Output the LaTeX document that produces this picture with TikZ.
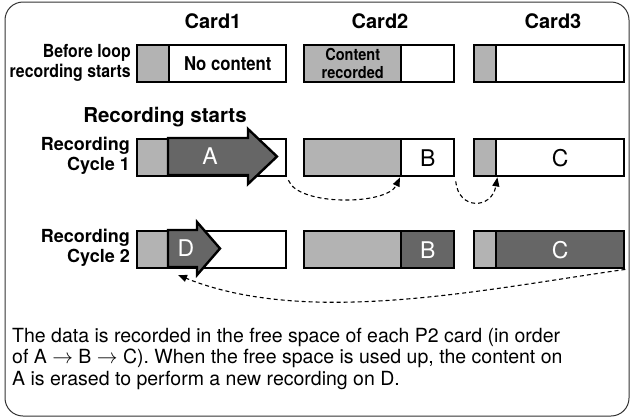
\documentclass[tikz,border=0pt]{standalone}
\usepackage{fontspec}
\setmainfont{TeX Gyre Heros}
\newfontfamily\narrowfont[FakeStretch=0.88]{TeX Gyre Heros}
\usetikzlibrary{arrows.meta}
\definecolor{CardUsed}{HTML}{B3B3B3}
\definecolor{CardRec}{HTML}{666666}
\definecolor{FrameGray}{HTML}{333333}
\tikzset{
    % Base part of a card
    basepart/.style={
        draw=black,
        line width=2.4pt,
        anchor=north west,
        minimum height=37pt,
        inner sep=0pt,
        align=center
    },
    % Part already holding content
    usedpart/.style={
        basepart,
        fill=CardUsed
    },
    % Free space
    freepart/.style={
        basepart,
        fill=white,
        font=\fontsize{23}{25}\selectfont
    },
    % Part being recorded
    recpart/.style={
        basepart,
        fill=CardRec,
        text=white,
        font=\fontsize{23}{25}\selectfont
    },
    % Recording arrow inside card 1
    recarrow/.style={
        draw=black,
        fill=CardRec,
        line width=2.4pt,
        line join=miter
    },
    % Card title
    cardtitle/.style={
        font=\fontsize{20}{22}\selectfont\bfseries
    },
    % Row label on the left
    rowlabel/.style={
        anchor=east,
        align=right,
        inner sep=0pt,
        font=\fontsize{18}{20}\selectfont\bfseries
    },
    % Dashed order arrow
    dasharrow/.style={
        -{Triangle[length=9pt,width=7pt]},
        dash pattern=on 4pt off 3pt,
        line width=1.1pt,
        draw=black
    }
}

\begin{document}
\begin{tikzpicture}[x=1pt, y=1pt]
        \useasboundingbox (0,0) rectangle (632,-418);
        \draw[FrameGray, line width=1pt, rounded corners=18pt] (5,-2) rectangle (629,-416);

        % Titles
        \node[cardtitle] (title1) at (213,-21) {Card1};
        \node[cardtitle] (title2) at (380,-21) {Card2};
        \node[cardtitle] (title3) at (553,-21) {Card3};

        % Before loop recording
        \node[rowlabel, font=\fontsize{18}{20}\selectfont\narrowfont\bfseries] (lblbefore) at (131,-63) {Before loop\\recording starts};
        \node[usedpart, minimum width=32pt] (c1r1used) at (136,-44) {};
        \node[freepart, minimum width=117pt, font=\fontsize{19}{21}\selectfont\narrowfont\bfseries] (c1r1free) at (168,-44) {No content};
        \node[usedpart, minimum width=97pt, font=\fontsize{16.5}{18}\selectfont\narrowfont\bfseries] (c2r1used) at (303,-44) {Content\\recorded};
        \node[freepart, minimum width=53pt] (c2r1free) at (400,-44) {};
        \node[usedpart, minimum width=22pt] (c3r1used) at (473,-44) {};
        \node[freepart, minimum width=128pt] (c3r1free) at (495,-44) {};

        % Recording starts
        \node[cardtitle, font=\fontsize{20.5}{22}\selectfont\bfseries] (lblstart) at (165,-117) {Recording starts};

        % Recording cycle 1
        \node[rowlabel] (lblcycle1) at (130,-156) {Recording\\Cycle 1};
        \node[usedpart, minimum width=32pt] (c1r2used) at (136,-138) {};
        \node[freepart, minimum width=117pt] (c1r2free) at (168,-138) {};
        \draw[recarrow] (168,-138) -- (248,-138) -- (248,-129) -- (277,-156.5)
            -- (248,-184) -- (248,-175) -- (168,-175) -- cycle;
        \node[text=white, font=\fontsize{23}{25}\selectfont] (lblA) at (210,-156.5) {A};
        \node[usedpart, minimum width=97pt] (c2r2used) at (303,-138) {};
        \node[freepart, minimum width=53pt] (c2r2free) at (400,-138) {B};
        \node[usedpart, minimum width=22pt] (c3r2used) at (473,-138) {};
        \node[freepart, minimum width=128pt] (c3r2free) at (495,-138) {C};

        % Recording cycle 2
        \node[rowlabel] (lblcycle2) at (130,-248) {Recording\\Cycle 2};
        \node[usedpart, minimum width=32pt] (c1r3used) at (136,-230) {};
        \node[freepart, minimum width=117pt] (c1r3free) at (168,-230) {};
        \draw[recarrow] (168,-230) -- (197,-230) -- (197,-222) -- (220,-248.5)
            -- (197,-275) -- (197,-267) -- (168,-267) -- cycle;
        \node[text=white, font=\fontsize{23}{25}\selectfont] (lblD) at (186,-248.5) {D};
        \node[usedpart, minimum width=97pt] (c2r3used) at (303,-230) {};
        \node[recpart, minimum width=53pt] (c2r3rec) at (400,-230) {B};
        \node[usedpart, minimum width=22pt] (c3r3used) at (473,-230) {};
        \node[recpart, minimum width=128pt] (c3r3rec) at (495,-230) {C};
        \coordinate (dtip) at (178,-275);

        % Arrows
        \draw[dasharrow, shorten <=3pt] (c1r2free.south east) to[out=-70, in=-115, looseness=0.7] (c2r2free.south west);
        \draw[dasharrow, shorten <=4pt] (c2r2free.south east) to[out=-85, in=-100, looseness=2] (c3r2used.south east);
        \draw[dasharrow] (c3r3rec.south east) to[out=-172, in=-22, looseness=0.8] (dtip);

        % Explanation
        \node[anchor=north west, align=left, inner sep=0pt, font=\fontsize{19.5}{21.5}\selectfont] (note) at (12,-328) {The data is recorded in the free space of each P2 card (in order\\
            of A $\rightarrow$ B $\rightarrow$ C). When the free space is used up, the content on\\
            A is erased to perform a new recording on D.};
    \end{tikzpicture}
\end{document}
